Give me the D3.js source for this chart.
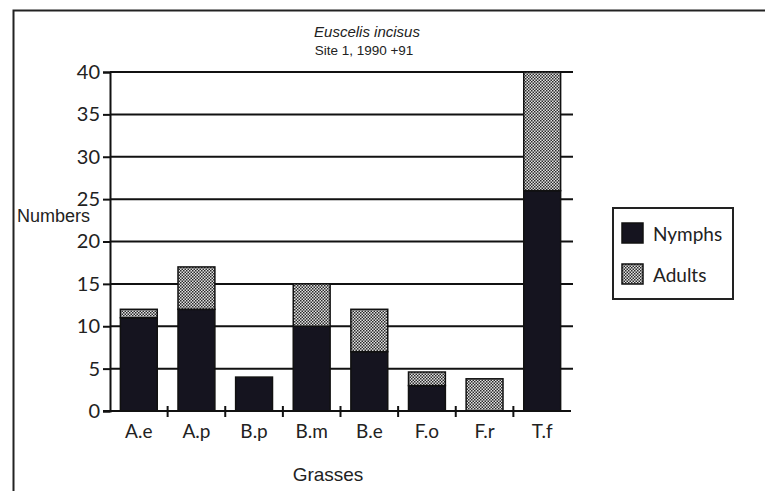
<!DOCTYPE html>
<html><head><meta charset="utf-8">
<script src="https://cdn.jsdelivr.net/npm/d3@7"></script>
<style>body{margin:0;background:#fff}svg{display:block}</style>
</head><body>
<script>
const categories = ["A.e","A.p","B.p","B.m","B.e","F.o","F.r","T.f"];
const nymphs = [11,12,4,10,7,3,0,26];
const adults = [1,5,0,5,5,1.6,3.8,14];
const yTicks = [0,5,10,15,20,25,30,35,40];
const seriesNames = ["Nymphs","Adults"];

const W=765,H=491;
const svg=d3.select("body").append("svg").attr("width",W).attr("height",H);
const defs=svg.append("defs");
const pat=defs.append("pattern").attr("id","hatch").attr("patternUnits","userSpaceOnUse").attr("width",3).attr("height",3);
pat.append("rect").attr("width",3).attr("height",3).attr("fill","#e2e2e2");
pat.append("rect").attr("x",0).attr("y",0).attr("width",1.5).attr("height",1.5).attr("fill","#2a2a2a");
pat.append("rect").attr("x",1.5).attr("y",1.5).attr("width",1.5).attr("height",1.5).attr("fill","#2a2a2a");

// outer frame
svg.append("rect").attr("x",13.5).attr("y",10.5).attr("width",W+10).attr("height",500).attr("fill","none").attr("stroke","#222").attr("stroke-width",2);

const x=d3.scaleBand().domain(categories).range([110,571]).paddingInner(0.36).paddingOuter(0.18);
const y=d3.scaleLinear().domain([0,40]).range([411,72]);

// gridlines
svg.append("g").selectAll("line").data(yTicks.filter(d=>d>0)).join("line")
 .attr("x1",110).attr("x2",573).attr("y1",d=>y(d)).attr("y2",d=>y(d))
 .attr("stroke","#111").attr("stroke-width",2);

const fontT="'Liberation Sans', Arial, sans-serif";
const fontG="'Lato', 'Liberation Sans', sans-serif";

// y axis
const yAxis=svg.append("g").attr("transform","translate(110,0)")
 .call(d3.axisLeft(y).tickValues(yTicks).tickSize(7).tickPadding(3));
yAxis.select(".domain").attr("stroke","#111").attr("stroke-width",2);
yAxis.selectAll(".tick line").attr("stroke","#111").attr("stroke-width",2);
yAxis.selectAll("text").attr("font-family",fontG).attr("font-size",20).attr("fill","#222");

// stacked bars
const stackData=categories.map((c,i)=>({cat:c,Nymphs:nymphs[i],Adults:adults[i]}));
const stack=d3.stack().keys(seriesNames)(stackData);
const fills={Nymphs:"#15141f",Adults:"url(#hatch)"};
svg.append("g").selectAll("g").data(stack).join("g").attr("fill",d=>fills[d.key])
 .selectAll("rect").data(d=>d.filter(p=>p[1]-p[0]>0)).join("rect")
 .attr("x",d=>x(d.data.cat)).attr("width",x.bandwidth())
 .attr("y",d=>y(d[1])).attr("height",d=>y(d[0])-y(d[1]))
 .attr("stroke","#111").attr("stroke-width",1.5);

// x axis
const xAxis=svg.append("g").attr("transform","translate(0,411)");
xAxis.append("line").attr("x1",103).attr("x2",571).attr("stroke","#111").attr("stroke-width",2);
const bounds=categories.slice(1).map(c=>x(c)-x.step()*x.paddingInner()/2);
xAxis.selectAll("line.t").data(bounds).join("line").attr("class","t")
 .attr("x1",d=>d).attr("x2",d=>d).attr("y1",-5).attr("y2",6).attr("stroke","#111").attr("stroke-width",2);
xAxis.selectAll("text").data(categories).join("text")
 .attr("x",d=>x(d)+x.bandwidth()/2).attr("y",27).attr("text-anchor","middle")
 .attr("font-family",fontG).attr("font-size",19).attr("fill","#222").text(d=>d);

// titles
svg.append("text").attr("x",367).attr("y",37).attr("text-anchor","middle").attr("font-family",fontT)
 .attr("font-style","italic").attr("font-size",15).attr("fill","#222").text("Euscelis  incisus");
svg.append("text").attr("x",364).attr("y",55).attr("text-anchor","middle").attr("font-family",fontT)
 .attr("font-size",13.5).attr("fill","#222").text("Site 1, 1990 +91");
svg.append("text").attr("x",17).attr("y",222).attr("font-family",fontT)
 .attr("font-size",18).attr("fill","#222").text("Numbers");
svg.append("text").attr("x",328).attr("y",481).attr("text-anchor","middle").attr("font-family",fontT)
 .attr("font-size",19).attr("fill","#222").text("Grasses");

// legend
const lg=svg.append("g");
lg.append("rect").attr("x",613).attr("y",208).attr("width",120).attr("height",91).attr("fill","#fff").attr("stroke","#222").attr("stroke-width",2);
const li=lg.selectAll("g").data(seriesNames).join("g").attr("transform",(d,i)=>`translate(622,${223+i*41})`);
li.append("rect").attr("width",21).attr("height",20).attr("fill",d=>fills[d]).attr("stroke","#111").attr("stroke-width",1.5);
li.append("text").attr("x",31).attr("y",18).attr("font-family",fontG).attr("font-size",19).attr("fill","#222").text(d=>d);
</script>
</body></html>
